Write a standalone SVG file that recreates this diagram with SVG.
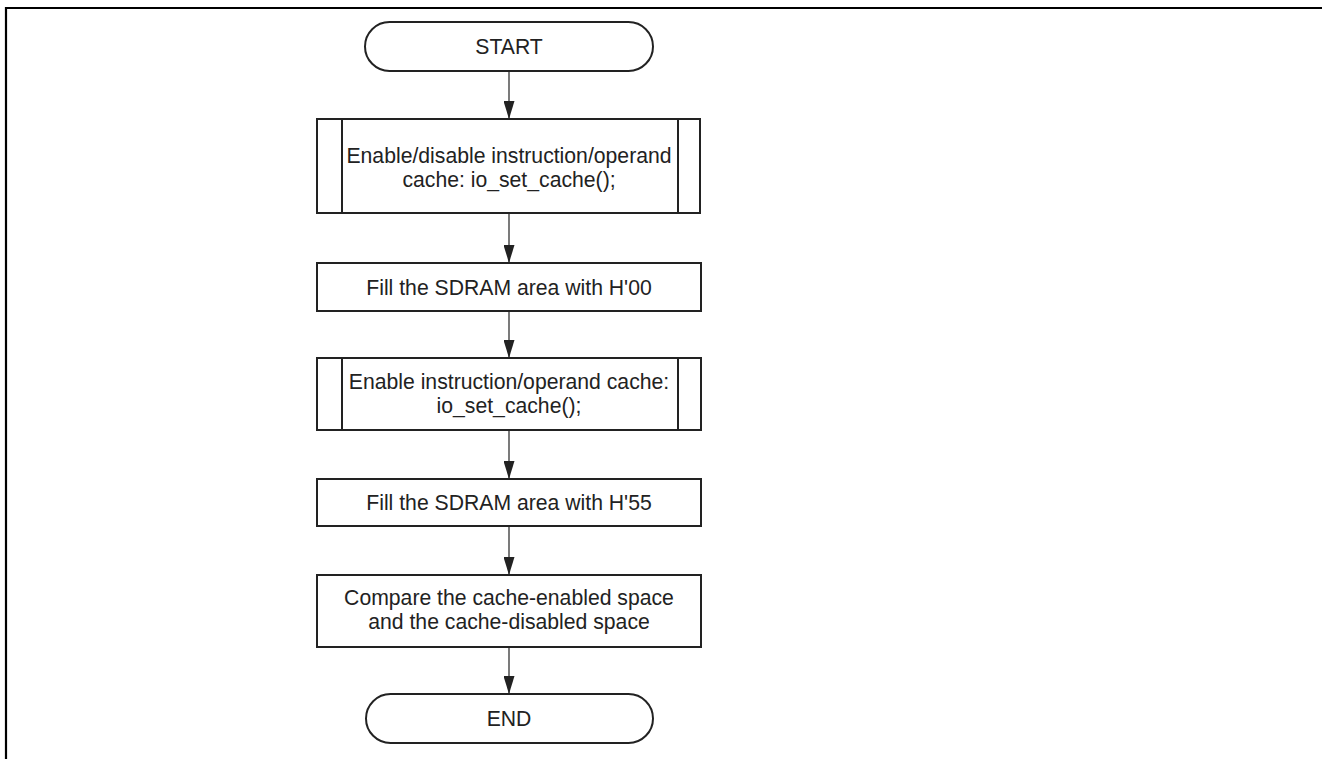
<svg xmlns="http://www.w3.org/2000/svg" width="1323" height="759" viewBox="0 0 1323 759">
<style>
.box{fill:#fff;stroke:#222;stroke-width:2}
.t{font-family:"Liberation Sans",Arial,sans-serif;font-size:21.2px;fill:#222;text-anchor:middle}
.c{stroke:#222;stroke-width:1.2;fill:none;marker-end:url(#ah)}
</style>
<defs>
<marker id="ah" markerUnits="userSpaceOnUse" markerWidth="18" markerHeight="11" viewBox="0 0 18 11" refX="18" refY="5.5" orient="auto">
<path d="M0,0 L18,5.5 L0,11 Z" fill="#222"/>
</marker>
</defs>
<rect width="1323" height="759" fill="#fff"/>
<path d="M6,759 V8 H1322" fill="none" stroke="#000" stroke-width="2.2"/>
<g id="connectors">
<line class="c" x1="509" y1="71" x2="509" y2="119"/>
<line class="c" x1="509" y1="213" x2="509" y2="263"/>
<line class="c" x1="509" y1="311" x2="509" y2="358"/>
<line class="c" x1="509" y1="430" x2="509" y2="479"/>
<line class="c" x1="509" y1="526" x2="509" y2="575"/>
<line class="c" x1="509" y1="647" x2="509" y2="694"/>
</g>
<g id="start">
<rect class="box" x="365" y="22" width="288" height="49" rx="24.5" ry="24.5"/>
<text class="t" x="509" y="54">START</text>
</g>
<g id="step1">
<rect class="box" x="317" y="119" width="383" height="94"/>
<line class="box" x1="342" y1="119" x2="342" y2="213"/>
<line class="box" x1="678" y1="119" x2="678" y2="213"/>
<text class="t" x="509" y="163">Enable/disable instruction/operand</text>
<text class="t" x="509" y="187">cache: io_set_cache();</text>
</g>
<g id="step2">
<rect class="box" x="317" y="263" width="384" height="48"/>
<text class="t" x="509" y="295">Fill the SDRAM area with H'00</text>
</g>
<g id="step3">
<rect class="box" x="317" y="358" width="384" height="72"/>
<line class="box" x1="342" y1="358" x2="342" y2="430"/>
<line class="box" x1="678" y1="358" x2="678" y2="430"/>
<text class="t" x="509" y="389">Enable instruction/operand cache:</text>
<text class="t" x="509" y="413">io_set_cache();</text>
</g>
<g id="step4">
<rect class="box" x="317" y="479" width="384" height="47"/>
<text class="t" x="509" y="510">Fill the SDRAM area with H'55</text>
</g>
<g id="step5">
<rect class="box" x="317" y="575" width="384" height="72"/>
<text class="t" x="509" y="605">Compare the cache-enabled space</text>
<text class="t" x="509" y="629">and the cache-disabled space</text>
</g>
<g id="end">
<rect class="box" x="366" y="694" width="287" height="49" rx="24.5" ry="24.5"/>
<text class="t" x="509" y="726">END</text>
</g>
</svg>
